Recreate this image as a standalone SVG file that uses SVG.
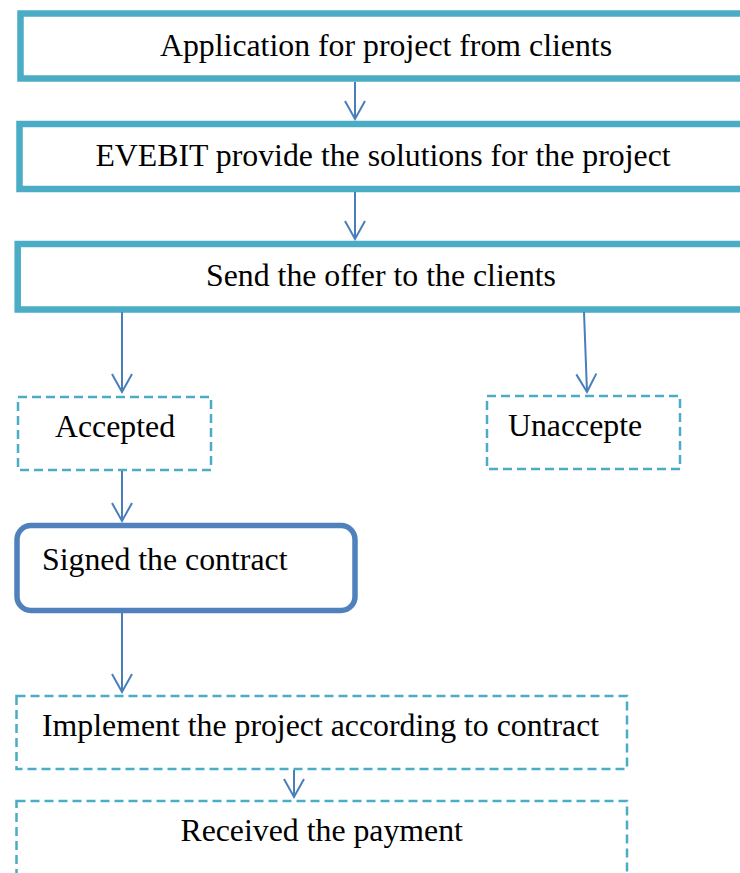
<svg xmlns="http://www.w3.org/2000/svg" width="740" height="873" viewBox="0 0 740 873">
<defs>
<style>
.solid{fill:#fff;stroke:#4BACC6;stroke-width:6.5}
.dash{fill:#fff;stroke:#4BACC6;stroke-width:2.5;stroke-dasharray:9 5}
.round{fill:#fff;stroke:#4F81BD;stroke-width:5.5}
.t{font-family:"Liberation Serif","Times New Roman",serif;font-size:31.8px;fill:#000}
.c{stroke:#4A7EBB;stroke-width:2;fill:none}
</style>
<marker id="ah" markerWidth="24" markerHeight="22" refX="20" refY="11" orient="auto" markerUnits="userSpaceOnUse">
<path d="M2,1 L20,11 L2,21" fill="none" stroke="#4A7EBB" stroke-width="2"/>
</marker>
</defs>
<rect width="740" height="873" fill="#fff"/>
<g id="n1"><rect class="solid" x="20.5" y="13.5" width="730" height="65"/><text class="t" x="386" y="56" text-anchor="middle">Application for project from clients</text></g>
<g id="n2"><rect class="solid" x="19.5" y="124" width="730" height="65"/><text class="t" x="383" y="166" text-anchor="middle">EVEBIT provide the solutions for the project</text></g>
<g id="n3"><rect class="solid" x="17.7" y="244" width="730" height="65.5"/><text class="t" x="381" y="286" text-anchor="middle">Send the offer to the clients</text></g>
<g id="n4"><rect class="dash" x="18" y="397" width="193" height="73"/><text class="t" x="55" y="437">Accepted</text></g>
<g id="n5"><rect class="dash" x="487" y="396" width="193" height="73"/><text class="t" x="508" y="436">Unaccepte</text></g>
<g id="n6"><rect class="round" x="17" y="525.5" width="338" height="85" rx="14"/><text class="t" x="42" y="570">Signed the contract</text></g>
<g id="n7"><rect class="dash" x="16.5" y="696" width="610.5" height="73"/><text class="t" x="42" y="736">Implement the project according to contract</text></g>
<g id="n8"><rect class="dash" x="16.5" y="801" width="610.5" height="100"/><text class="t" x="321.7" y="841" text-anchor="middle">Received the payment</text></g>
<g id="connectors">
<line class="c" x1="355" y1="82" x2="355" y2="119" marker-end="url(#ah)"/>
<line class="c" x1="355" y1="192" x2="355" y2="239" marker-end="url(#ah)"/>
<line class="c" x1="122" y1="312" x2="122" y2="392" marker-end="url(#ah)"/>
<line class="c" x1="584" y1="312" x2="587" y2="392" marker-end="url(#ah)"/>
<line class="c" x1="122" y1="471" x2="122" y2="521" marker-end="url(#ah)"/>
<line class="c" x1="122" y1="613" x2="122" y2="692" marker-end="url(#ah)"/>
<line class="c" x1="294" y1="770" x2="294" y2="797" marker-end="url(#ah)"/>
</g>
</svg>
